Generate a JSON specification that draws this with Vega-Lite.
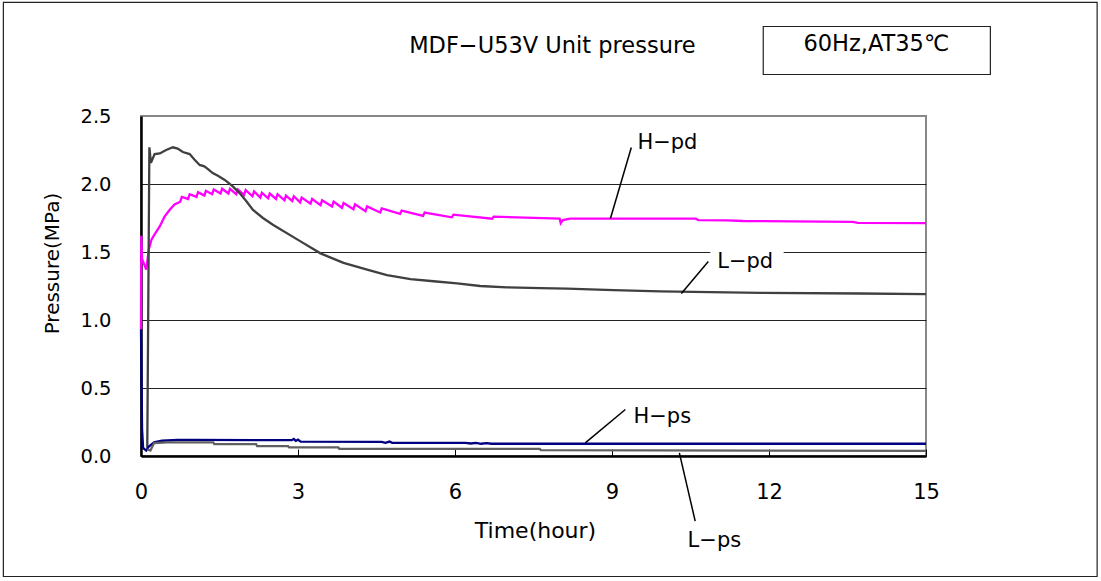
{
  "$schema": "https://vega.github.io/schema/vega-lite/v6.json",
  "width": 785,
  "height": 340,
  "autosize": {"type": "none"},
  "padding": {"left": 141, "top": 116, "right": 175, "bottom": 125},
  "background": "white",
  "config": {
    "font": "DejaVu Sans",
    "view": {"stroke": "#888", "strokeWidth": 2}
  },
  "datasets": {
    "series": [
      {"s": "H-pd", "t": 0, "p": 0.93},
      {"s": "H-pd", "t": 0.005, "p": 1.62},
      {"s": "H-pd", "t": 0.02, "p": 1.45},
      {"s": "H-pd", "t": 0.1, "p": 1.37},
      {"s": "H-pd", "t": 0.15, "p": 1.52},
      {"s": "H-pd", "t": 0.2, "p": 1.59},
      {"s": "H-pd", "t": 0.26, "p": 1.63},
      {"s": "H-pd", "t": 0.36, "p": 1.69},
      {"s": "H-pd", "t": 0.45, "p": 1.76},
      {"s": "H-pd", "t": 0.55, "p": 1.81},
      {"s": "H-pd", "t": 0.64, "p": 1.85},
      {"s": "H-pd", "t": 0.75, "p": 1.87},
      {"s": "H-pd", "t": 0.78, "p": 1.905},
      {"s": "H-pd", "t": 0.9, "p": 1.89},
      {"s": "H-pd", "t": 0.93, "p": 1.925},
      {"s": "H-pd", "t": 1.06, "p": 1.905},
      {"s": "H-pd", "t": 1.09, "p": 1.94},
      {"s": "H-pd", "t": 1.21, "p": 1.915},
      {"s": "H-pd", "t": 1.24, "p": 1.95},
      {"s": "H-pd", "t": 1.36, "p": 1.925},
      {"s": "H-pd", "t": 1.39, "p": 1.96},
      {"s": "H-pd", "t": 1.52, "p": 1.93},
      {"s": "H-pd", "t": 1.55, "p": 1.965},
      {"s": "H-pd", "t": 1.67, "p": 1.93},
      {"s": "H-pd", "t": 1.7, "p": 1.965},
      {"s": "H-pd", "t": 1.82, "p": 1.925},
      {"s": "H-pd", "t": 1.85, "p": 1.96},
      {"s": "H-pd", "t": 1.97, "p": 1.92},
      {"s": "H-pd", "t": 2.0, "p": 1.955},
      {"s": "H-pd", "t": 2.13, "p": 1.91},
      {"s": "H-pd", "t": 2.16, "p": 1.945},
      {"s": "H-pd", "t": 2.28, "p": 1.9},
      {"s": "H-pd", "t": 2.31, "p": 1.935},
      {"s": "H-pd", "t": 2.43, "p": 1.895},
      {"s": "H-pd", "t": 2.46, "p": 1.93},
      {"s": "H-pd", "t": 2.58, "p": 1.89},
      {"s": "H-pd", "t": 2.61, "p": 1.925},
      {"s": "H-pd", "t": 2.74, "p": 1.88},
      {"s": "H-pd", "t": 2.77, "p": 1.915},
      {"s": "H-pd", "t": 2.89, "p": 1.875},
      {"s": "H-pd", "t": 2.92, "p": 1.91},
      {"s": "H-pd", "t": 3.04, "p": 1.865},
      {"s": "H-pd", "t": 3.07, "p": 1.9},
      {"s": "H-pd", "t": 3.24, "p": 1.855},
      {"s": "H-pd", "t": 3.27, "p": 1.89},
      {"s": "H-pd", "t": 3.43, "p": 1.845},
      {"s": "H-pd", "t": 3.46, "p": 1.88},
      {"s": "H-pd", "t": 3.65, "p": 1.835},
      {"s": "H-pd", "t": 3.68, "p": 1.87},
      {"s": "H-pd", "t": 3.84, "p": 1.825},
      {"s": "H-pd", "t": 3.87, "p": 1.86},
      {"s": "H-pd", "t": 4.06, "p": 1.815},
      {"s": "H-pd", "t": 4.09, "p": 1.85},
      {"s": "H-pd", "t": 4.29, "p": 1.8},
      {"s": "H-pd", "t": 4.32, "p": 1.835},
      {"s": "H-pd", "t": 4.57, "p": 1.79},
      {"s": "H-pd", "t": 4.6, "p": 1.82},
      {"s": "H-pd", "t": 4.95, "p": 1.78},
      {"s": "H-pd", "t": 4.98, "p": 1.805},
      {"s": "H-pd", "t": 5.39, "p": 1.765},
      {"s": "H-pd", "t": 5.42, "p": 1.79},
      {"s": "H-pd", "t": 5.94, "p": 1.755},
      {"s": "H-pd", "t": 5.97, "p": 1.775},
      {"s": "H-pd", "t": 6.71, "p": 1.745},
      {"s": "H-pd", "t": 6.74, "p": 1.76},
      {"s": "H-pd", "t": 8.0, "p": 1.745},
      {"s": "H-pd", "t": 8.02, "p": 1.712},
      {"s": "H-pd", "t": 8.06, "p": 1.735},
      {"s": "H-pd", "t": 8.2, "p": 1.745},
      {"s": "H-pd", "t": 10.6, "p": 1.745},
      {"s": "H-pd", "t": 10.65, "p": 1.735},
      {"s": "H-pd", "t": 11.2, "p": 1.733},
      {"s": "H-pd", "t": 11.5, "p": 1.728},
      {"s": "H-pd", "t": 13.6, "p": 1.722},
      {"s": "H-pd", "t": 13.7, "p": 1.714},
      {"s": "H-pd", "t": 15, "p": 1.713},

      {"s": "L-pd", "t": 0.12, "p": 0.06},
      {"s": "L-pd", "t": 0.16, "p": 2.27},
      {"s": "L-pd", "t": 0.19, "p": 2.155},
      {"s": "L-pd", "t": 0.26, "p": 2.22},
      {"s": "L-pd", "t": 0.36, "p": 2.225},
      {"s": "L-pd", "t": 0.48, "p": 2.25},
      {"s": "L-pd", "t": 0.61, "p": 2.27},
      {"s": "L-pd", "t": 0.7, "p": 2.26},
      {"s": "L-pd", "t": 0.8, "p": 2.235},
      {"s": "L-pd", "t": 0.93, "p": 2.22},
      {"s": "L-pd", "t": 1.02, "p": 2.18},
      {"s": "L-pd", "t": 1.12, "p": 2.14},
      {"s": "L-pd", "t": 1.21, "p": 2.13},
      {"s": "L-pd", "t": 1.28, "p": 2.11},
      {"s": "L-pd", "t": 1.37, "p": 2.08},
      {"s": "L-pd", "t": 1.47, "p": 2.06},
      {"s": "L-pd", "t": 1.6, "p": 2.03},
      {"s": "L-pd", "t": 1.76, "p": 1.98},
      {"s": "L-pd", "t": 1.88, "p": 1.935},
      {"s": "L-pd", "t": 2.01, "p": 1.875},
      {"s": "L-pd", "t": 2.14, "p": 1.81},
      {"s": "L-pd", "t": 2.33, "p": 1.75},
      {"s": "L-pd", "t": 2.52, "p": 1.7},
      {"s": "L-pd", "t": 3.04, "p": 1.58},
      {"s": "L-pd", "t": 3.43, "p": 1.49},
      {"s": "L-pd", "t": 3.87, "p": 1.42},
      {"s": "L-pd", "t": 4.32, "p": 1.37},
      {"s": "L-pd", "t": 4.7, "p": 1.33},
      {"s": "L-pd", "t": 5.15, "p": 1.3},
      {"s": "L-pd", "t": 5.59, "p": 1.285},
      {"s": "L-pd", "t": 6.04, "p": 1.27},
      {"s": "L-pd", "t": 6.48, "p": 1.25},
      {"s": "L-pd", "t": 6.99, "p": 1.24},
      {"s": "L-pd", "t": 7.63, "p": 1.235},
      {"s": "L-pd", "t": 8.14, "p": 1.23},
      {"s": "L-pd", "t": 9.03, "p": 1.22},
      {"s": "L-pd", "t": 9.92, "p": 1.21},
      {"s": "L-pd", "t": 11.84, "p": 1.2},
      {"s": "L-pd", "t": 13.75, "p": 1.195},
      {"s": "L-pd", "t": 15, "p": 1.19},

      {"s": "H-ps", "t": 0, "p": 0.93},
      {"s": "H-ps", "t": 0.02, "p": 0.2},
      {"s": "H-ps", "t": 0.04, "p": 0.06},
      {"s": "H-ps", "t": 0.1, "p": 0.04},
      {"s": "H-ps", "t": 0.15, "p": 0.07},
      {"s": "H-ps", "t": 0.25, "p": 0.1},
      {"s": "H-ps", "t": 0.4, "p": 0.112},
      {"s": "H-ps", "t": 0.7, "p": 0.118},
      {"s": "H-ps", "t": 1.0, "p": 0.118},
      {"s": "H-ps", "t": 2.88, "p": 0.116},
      {"s": "H-ps", "t": 2.92, "p": 0.125},
      {"s": "H-ps", "t": 2.96, "p": 0.112},
      {"s": "H-ps", "t": 3.0, "p": 0.12},
      {"s": "H-ps", "t": 3.05, "p": 0.106},
      {"s": "H-ps", "t": 4.6, "p": 0.104},
      {"s": "H-ps", "t": 4.67, "p": 0.097},
      {"s": "H-ps", "t": 4.75, "p": 0.106},
      {"s": "H-ps", "t": 4.8, "p": 0.097},
      {"s": "H-ps", "t": 6.2, "p": 0.097},
      {"s": "H-ps", "t": 6.3, "p": 0.092},
      {"s": "H-ps", "t": 6.4, "p": 0.097},
      {"s": "H-ps", "t": 6.5, "p": 0.09},
      {"s": "H-ps", "t": 6.6, "p": 0.095},
      {"s": "H-ps", "t": 6.7, "p": 0.09},
      {"s": "H-ps", "t": 15, "p": 0.09},

      {"s": "L-ps", "t": 0.12, "p": 0.05},
      {"s": "L-ps", "t": 0.18, "p": 0.04},
      {"s": "L-ps", "t": 0.25, "p": 0.095},
      {"s": "L-ps", "t": 0.5, "p": 0.1},
      {"s": "L-ps", "t": 1.38, "p": 0.1},
      {"s": "L-ps", "t": 1.4, "p": 0.087},
      {"s": "L-ps", "t": 2.2, "p": 0.087},
      {"s": "L-ps", "t": 2.22, "p": 0.072},
      {"s": "L-ps", "t": 2.81, "p": 0.072},
      {"s": "L-ps", "t": 2.83, "p": 0.063},
      {"s": "L-ps", "t": 3.77, "p": 0.063},
      {"s": "L-ps", "t": 3.79, "p": 0.053},
      {"s": "L-ps", "t": 7.62, "p": 0.053},
      {"s": "L-ps", "t": 7.64, "p": 0.043},
      {"s": "L-ps", "t": 15, "p": 0.038}
    ],
    "frames": [
      {"kind": "outer", "t1": -2.63, "t2": 18.27, "p1": 3.335, "p2": -0.886},
      {"kind": "box", "t1": 11.89, "t2": 16.23, "p1": 3.158, "p2": 2.805}
    ],
    "masks": [
      {"t1": 10.88, "t2": 12.28, "p1": 1.52, "p2": 1.34}
    ],
    "leaders": [
      {"name": "H-pd", "t1": 9.369, "p1": 2.268, "t2": 8.97, "p2": 1.746},
      {"name": "L-pd", "t1": 10.84, "p1": 1.43, "t2": 10.326, "p2": 1.195},
      {"name": "H-ps", "t1": 9.255, "p1": 0.342, "t2": 8.49, "p2": 0.097},
      {"name": "L-ps", "t1": 10.59, "p1": -0.479, "t2": 10.287, "p2": 0.0235}
    ],
    "labels": [
      {"text": "H−pd", "t": 9.485, "p": 2.305},
      {"text": "L−pd", "t": 11.01, "p": 1.43},
      {"text": "H−ps", "t": 9.41, "p": 0.288},
      {"text": "L−ps", "t": 10.445, "p": -0.626}
    ],
    "headings": [
      {"text": "MDF−U53V Unit pressure", "t": 7.86, "p": 3.018},
      {"text": "60Hz,AT35℃", "t": 14.05, "p": 3.033}
    ]
  },
  "layer": [
    {
      "data": {"name": "series"},
      "mark": {"type": "line", "strokeWidth": 2.3, "interpolate": "linear"},
      "encoding": {
        "x": {
          "field": "t", "type": "quantitative",
          "scale": {"domain": [0, 15], "nice": false, "zero": false},
          "axis": {
            "values": [0, 3, 6, 9, 12, 15], "title": "Time(hour)", "grid": false,
            "tickSize": -7, "tickColor": "#000", "tickWidth": 1,
            "domainColor": "#000", "domainWidth": 2.5,
            "labelFontSize": 21, "labelColor": "#000", "labelPadding": 43, "labelBaseline": "middle", "labelFlush": false,
            "titleFontSize": 22, "titleFontWeight": "normal", "titleColor": "#000",
            "titleX": 394, "titleY": 74, "titleAlign": "center", "titleBaseline": "middle"
          }
        },
        "y": {
          "field": "p", "type": "quantitative",
          "scale": {"domain": [0, 2.5], "nice": false, "zero": false},
          "axis": {
            "values": [0, 0.5, 1, 1.5, 2, 2.5], "format": ".1f", "title": "Pressure(MPa)",
            "ticks": false, "labelPadding": 30, "labelFontSize": 19.5, "labelColor": "#000", "labelFlush": false,
            "domainColor": "#000", "domainWidth": 2.5,
            "grid": true, "gridColor": {"condition": {"test": "datum.value >= 2.5", "value": "#888"}, "value": "#222"}, "gridWidth": 1.2,
            "titleFontSize": 20, "titleFontWeight": "normal", "titleColor": "#000",
            "titleX": -89, "titleY": 147, "titleAlign": "center", "titleBaseline": "middle", "titleAngle": -90
          }
        },
        "color": {
          "field": "s", "type": "nominal",
          "scale": {"domain": ["H-pd", "L-pd", "H-ps", "L-ps"], "range": ["#ff00ff", "#404040", "#000080", "#606060"]},
          "legend": null
        },
        "detail": {"field": "s"}
      }
    },
    {
      "data": {"name": "frames"},
      "mark": {"type": "rect", "fill": null, "stroke": "#222", "strokeWidth": 1.2, "clip": false},
      "encoding": {
        "x": {"field": "t1", "type": "quantitative"},
        "x2": {"field": "t2"},
        "y": {"field": "p1", "type": "quantitative"},
        "y2": {"field": "p2"}
      }
    },
    {
      "data": {"name": "masks"},
      "mark": {"type": "rect", "fill": "white", "stroke": null},
      "encoding": {
        "x": {"field": "t1", "type": "quantitative"},
        "x2": {"field": "t2"},
        "y": {"field": "p1", "type": "quantitative"},
        "y2": {"field": "p2"}
      }
    },
    {
      "data": {"name": "leaders"},
      "mark": {"type": "rule", "stroke": "#000", "strokeWidth": 1.5, "clip": false},
      "encoding": {
        "x": {"field": "t1", "type": "quantitative"},
        "x2": {"field": "t2"},
        "y": {"field": "p1", "type": "quantitative"},
        "y2": {"field": "p2"}
      }
    },
    {
      "data": {"name": "labels"},
      "mark": {"type": "text", "align": "left", "baseline": "middle", "fontSize": 21, "fill": "#000"},
      "encoding": {
        "x": {"field": "t", "type": "quantitative"},
        "y": {"field": "p", "type": "quantitative"},
        "text": {"field": "text"}
      }
    },
    {
      "data": {"name": "headings"},
      "mark": {"type": "text", "align": "center", "baseline": "middle", "fontSize": 22.5, "fill": "#000"},
      "encoding": {
        "x": {"field": "t", "type": "quantitative"},
        "y": {"field": "p", "type": "quantitative"},
        "text": {"field": "text"}
      }
    }
  ]
}
